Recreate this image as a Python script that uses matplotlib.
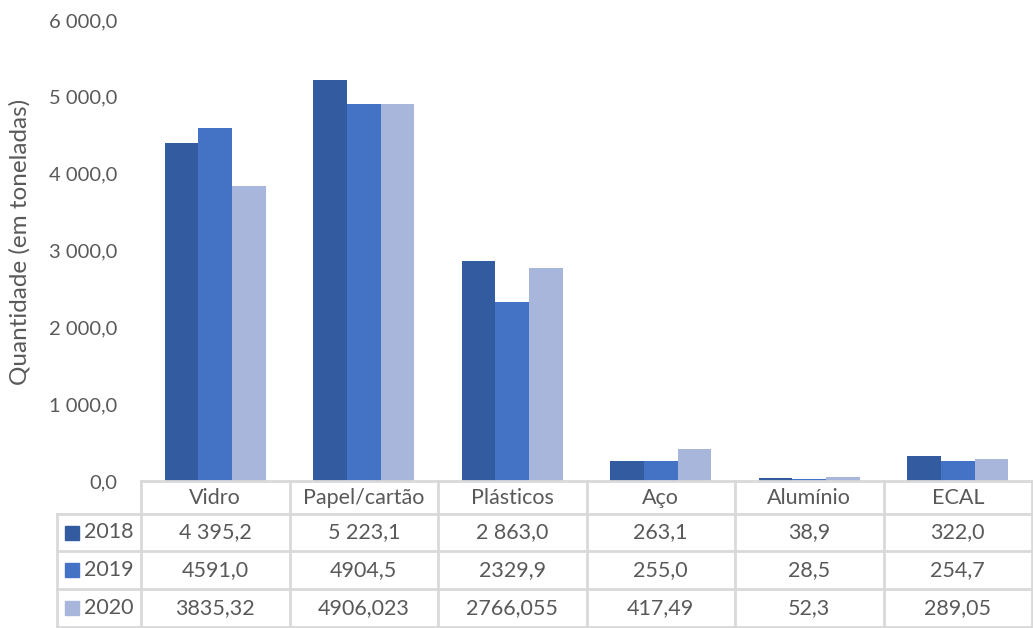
import numpy as np
import matplotlib.pyplot as plt
from matplotlib.lines import Line2D
from matplotlib.patches import Rectangle

categories = ['Vidro', 'Papel/cartão', 'Plásticos', 'Aço', 'Alumínio', 'ECAL']
years = ['2018', '2019', '2020']
v2018 = [4395.2, 5223.1, 2863.0, 263.1, 38.9, 322.0]
v2019 = [4591.0, 4904.5, 2329.9, 255.0, 28.5, 254.7]
v2020 = [3835.32, 4906.023, 2766.055, 417.49, 52.3, 289.05]
lbl2018 = ['4 395,2', '5 223,1', '2 863,0', '263,1', '38,9', '322,0']
lbl2019 = ['4591,0', '4904,5', '2329,9', '255,0', '28,5', '254,7']
lbl2020 = ['3835,32', '4906,023', '2766,055', '417,49', '52,3', '289,05']
yticks = [0, 1000, 2000, 3000, 4000, 5000, 6000]
ytick_labels = ['0,0', '1 000,0', '2 000,0', '3 000,0', '4 000,0', '5 000,0', '6 000,0']

colors = ['#335ca0', '#4472c4', '#a9b6dc']
txt = '#595959'
grid = '#d9d9d9'
W, H = 1033, 628
fs = 15.5

plt.rcParams['font.family'] = ['Lato', 'DejaVu Sans']
fig = plt.figure(figsize=(W / 100, H / 100), dpi=100)


def fx(x):
    return x / W


def fy(y):
    return 1 - y / H


x0, x1, ytop, ybase = 141, 1032, 20, 481
ax = fig.add_axes([fx(x0), fy(ybase), fx(x1) - fx(x0), fy(ytop) - fy(ybase)])

x = np.arange(len(categories))
w = 0.226
series = [v2018, v2019, v2020]
for i, vals in enumerate(series):
    ax.bar(x + (i - 1) * w, vals, w, color=colors[i], zorder=2)

ax.set_xlim(-0.5, len(categories) - 0.5)
ax.set_ylim(0, 6000)
ax.set_yticks(yticks)
ax.set_yticklabels(ytick_labels, color=txt, fontsize=14.5)
ax.tick_params(axis='y', length=0, pad=17)
ax.set_xticks([])
for s in ax.spines.values():
    s.set_visible(False)

fig.text(fx(20), fy(242), 'Quantidade (em toneladas)', rotation=90,
         ha='center', va='center', color=txt, fontsize=fs + 2)

# data table
col_x = np.linspace(x0, x1, len(categories) + 1)
row_y = [481, 514, 551, 589, 627]
lw = 2
fig.add_artist(Line2D([fx(x0), fx(x1)], [fy(row_y[0])] * 2, color=grid, lw=lw))
for ry in row_y[1:]:
    fig.add_artist(Line2D([fx(57), fx(x1)], [fy(ry)] * 2, color=grid, lw=lw))
for cx in col_x:
    fig.add_artist(Line2D([fx(cx)] * 2, [fy(row_y[0]), fy(row_y[-1])], color=grid, lw=lw))
fig.add_artist(Line2D([fx(57)] * 2, [fy(row_y[1]), fy(row_y[-1])], color=grid, lw=lw))

centers = (col_x[:-1] + col_x[1:]) / 2
for cx, name in zip(centers, categories):
    fig.text(fx(cx), fy((row_y[0] + row_y[1]) / 2), name, ha='center', va='center',
             color=txt, fontsize=fs)

labels = [lbl2018, lbl2019, lbl2020]
for r in range(3):
    cy = (row_y[r + 1] + row_y[r + 2]) / 2
    fig.add_artist(Rectangle((fx(65), fy(cy + 7)), fx(14), 14 / H,
                             color=colors[r], transform=fig.transFigure))
    fig.text(fx(84), fy(cy), years[r], ha='left', va='center', color=txt, fontsize=fs)
    for cx, lab in zip(centers, labels[r]):
        fig.text(fx(cx), fy(cy), lab, ha='center', va='center', color=txt, fontsize=fs)

fig.savefig('out.png', dpi=100)
